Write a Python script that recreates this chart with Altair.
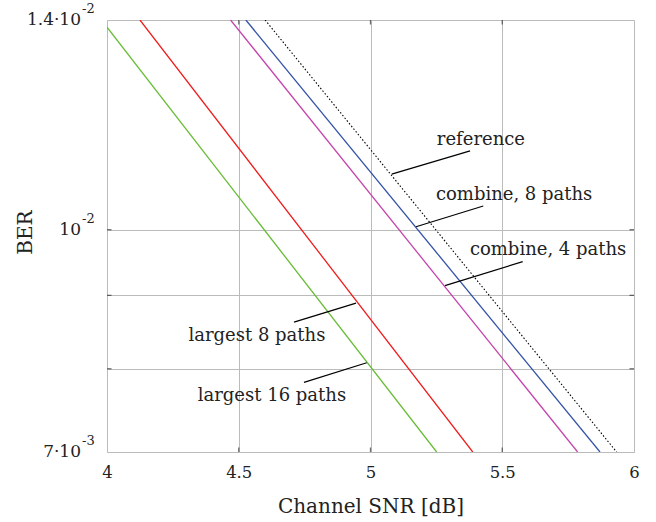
import altair as alt
import pandas as pd

# Series: each is a straight line on log-BER axis, read at its two ends
series = ["largest 16 paths", "largest 8 paths", "combine, 4 paths", "combine, 8 paths", "reference"]
snr_start = [4.0, 4.125, 4.469, 4.527, 4.600]
ber_start = [0.01384, 0.014, 0.014, 0.014, 0.014]
snr_end = [5.251, 5.388, 5.786, 5.871, 5.934]
ber_end = [0.007, 0.007, 0.007, 0.007, 0.007]
colors = ["#66bb33", "#ee1c1c", "#c444aa", "#3352a8", "#000000"]

# Annotation labels (text anchor) and leader lines (data coords)
label_snr = [4.626, 4.569, 5.674, 5.545, 5.419]
label_ber = [0.00760, 0.008371, 0.009602, 0.010488, 0.011459]
lead_snr1 = [4.7476, 4.7097, 5.5776, 5.428, 5.378]
lead_ber1 = [0.007828, 0.008621, 0.009500, 0.010388, 0.011349]
lead_snr2 = [4.9856, 4.945, 5.2827, 5.1727, 5.0805]
lead_ber2 = [0.008078, 0.008888, 0.009141, 0.010048, 0.010932]

# Axis ticks
y_ticks = [0.007, 0.008, 0.009, 0.01, 0.014]
y_inner_ticks = [0.008, 0.009, 0.01]
y_label_vals = [0.007, 0.01, 0.014]
y_label_mant = ["7·10", "10", "1.4·10"]
y_label_exp = ["-3", "-2", "-2"]
x_ticks = [4, 4.5, 5, 5.5, 6]
x_inner_ticks = [4.5, 5, 5.5]

rows = []
for i, s in enumerate(series):
    rows.append({"series": s, "snr": snr_start[i], "ber": ber_start[i], "o": 0})
    rows.append({"series": s, "snr": snr_end[i], "ber": ber_end[i], "o": 1})
df = pd.DataFrame(rows)

ann = pd.DataFrame({
    "series": series, "tx": label_snr, "ty": label_ber,
    "x1": lead_snr1, "y1": lead_ber1, "x2": lead_snr2, "y2": lead_ber2,
})

ylab = pd.DataFrame({"v": y_label_vals, "m": y_label_mant, "e": y_label_exp})
xt = pd.DataFrame({"v": x_inner_ticks})
yt = pd.DataFrame({"v": y_inner_ticks})

FONT = "DejaVu Serif"
TXT = "#222222"

xscale = alt.Scale(domain=[4, 6], nice=False, zero=False)
yscale = alt.Scale(type="log", domain=[0.007, 0.014], nice=False)

xenc = alt.X("snr:Q", scale=xscale, title="Channel SNR [dB]",
             axis=alt.Axis(values=x_ticks, grid=True, ticks=False, domain=False,
                           labelFontSize=16.5, titleFontSize=20, labelPadding=12,
                           titleFontWeight="normal", titleY=60, titleBaseline="alphabetic",
                           labelColor=TXT, titleColor=TXT, labelFlush=False,
                           labelFont=FONT, titleFont=FONT, gridColor="#bbbbbb",
                           labelExpr="datum.value == 4 || datum.value == 5 || datum.value == 6 ? format(datum.value, 'd') : format(datum.value, '.1f')"))
yenc = alt.Y("ber:Q", scale=yscale, title="BER",
             axis=alt.Axis(values=y_ticks, grid=True, ticks=False, domain=False,
                           labels=False, titleFontSize=20, titleFontWeight="normal",
                           titleX=-82, titleY=212, titleBaseline="middle", titleAngle=270,
                           titleColor=TXT, titleFont=FONT, gridColor="#bbbbbb"))

base = alt.Chart(df)

solid = base.transform_filter(alt.datum.series != "reference").mark_line(
    strokeWidth=1.3, clip=True).encode(
    x=xenc, y=yenc, order="o:Q", detail="series:N",
    color=alt.Color("series:N", scale=alt.Scale(domain=series, range=colors), legend=None),
)

ref = base.transform_filter(alt.datum.series == "reference").mark_line(
    strokeWidth=1.1, strokeDash=[1.5, 2], color="black", clip=True).encode(
    x="snr:Q", y="ber:Q", order="o:Q",
)

leaders = alt.Chart(ann).mark_rule(color="black", strokeWidth=1.2).encode(
    x="x1:Q", y="y1:Q", x2="x2:Q", y2="y2:Q",
)

labels = alt.Chart(ann).mark_text(
    font=FONT, fontSize=18, color=TXT, align="center", baseline="alphabetic"
).encode(x="tx:Q", y="ty:Q", text="series:N")

ylab_base = alt.Chart(ylab).transform_calculate(
    off="datum.v == 0.014 ? 5 : (datum.v == 0.007 ? 2 : 0)"
)
ymant = ylab_base.mark_text(
    font=FONT, fontSize=17, color=TXT, align="right", baseline="middle"
).encode(x=alt.value(-26), y="v:Q", yOffset=alt.YOffset("off:Q", scale=None), text="m:N")
yexp = ylab_base.mark_text(
    font=FONT, fontSize=13, color=TXT, align="left", baseline="middle", dy=-11
).encode(x=alt.value(-25), y="v:Q", yOffset=alt.YOffset("off:Q", scale=None), text="e:N")

# small inward tick marks on the frame
xt_top = alt.Chart(xt).mark_tick(orient="vertical", size=9, thickness=1.3, color="#333", clip=True).encode(
    x="v:Q", y=alt.value(0))
xt_bot = alt.Chart(xt).mark_tick(orient="vertical", size=9, thickness=1.3, color="#333", clip=True).encode(
    x="v:Q", y=alt.value(432))
yt_left = alt.Chart(yt).mark_tick(orient="horizontal", size=9, thickness=1.3, color="#333", clip=True).encode(
    y="v:Q", x=alt.value(0))
yt_right = alt.Chart(yt).mark_tick(orient="horizontal", size=9, thickness=1.3, color="#333", clip=True).encode(
    y="v:Q", x=alt.value(527))

chart = alt.layer(solid, ref, leaders, labels, ymant, yexp,
                  xt_top, xt_bot, yt_left, yt_right).properties(
    width=527, height=432,
    autosize=alt.AutoSizeParams(type="none"),
    padding={"left": 107, "top": 20, "right": 22, "bottom": 70},
).configure_view(stroke="#111", strokeWidth=2).configure(background="white")

chart.save("out.html", embed_options={"renderer": "svg", "actions": False})
